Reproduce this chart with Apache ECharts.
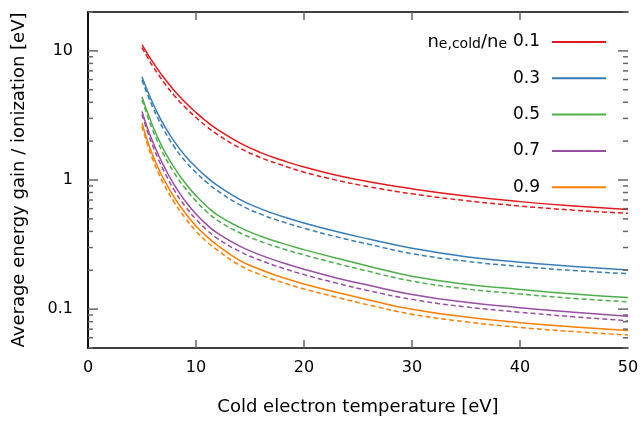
<!DOCTYPE html>
<html>
<head>
<meta charset="utf-8">
<script src="https://cdn.jsdelivr.net/npm/echarts@6/dist/echarts.min.js"></script>
<style>html,body{margin:0;padding:0;background:#fff}#c{width:643px;height:421px}</style>
</head>
<body>
<div id="c"></div>
<script>
// Cold electron temperature samples [eV]
const temps = [5, 5.5, 6, 6.5, 7, 8, 9, 10, 11, 12, 14, 16, 18, 20, 23, 26, 30, 35, 40, 45, 50];
const ratioLabels = ['0.1', '0.3', '0.5', '0.7', '0.9'];
const colors = ['#e41a1c', '#377eb8', '#4daf4a', '#984ea3', '#ff7f00'];

// solid curves
const solid01 = [11.2, 9.52, 8.18, 7.11, 6.24, 4.92, 4.0, 3.33, 2.83, 2.46, 1.95, 1.63, 1.42, 1.26, 1.09, 0.97, 0.855, 0.752, 0.68, 0.628, 0.59];
const solid03 = [6.3, 4.91, 3.93, 3.22, 2.69, 1.98, 1.54, 1.256, 1.053, 0.904, 0.712, 0.598, 0.522, 0.465, 0.399, 0.349, 0.296, 0.255, 0.231, 0.214, 0.201];
const solid05 = [4.42, 3.35, 2.61, 2.10, 1.72, 1.242, 0.947, 0.755, 0.624, 0.535, 0.431, 0.367, 0.323, 0.289, 0.248, 0.215, 0.18, 0.156, 0.142, 0.131, 0.123];
const solid07 = [3.40, 2.53, 1.975, 1.578, 1.292, 0.913, 0.688, 0.545, 0.451, 0.387, 0.309, 0.262, 0.229, 0.2035, 0.1745, 0.153, 0.130, 0.113, 0.1026, 0.0945, 0.0882];
const solid09 = [2.76, 2.015, 1.552, 1.24, 1.019, 0.730, 0.556, 0.441, 0.365, 0.312, 0.240, 0.2016, 0.176, 0.1567, 0.1353, 0.1176, 0.0997, 0.0868, 0.0785, 0.0727, 0.0683];

// dashed curves
const dashed01 = [10.6, 8.95, 7.6, 6.58, 5.74, 4.5, 3.66, 3.05, 2.59, 2.25, 1.78, 1.49, 1.30, 1.15, 0.998, 0.888, 0.782, 0.692, 0.629, 0.584, 0.552];
const dashed03 = [5.95, 4.62, 3.65, 2.98, 2.47, 1.80, 1.40, 1.143, 0.958, 0.823, 0.648, 0.544, 0.475, 0.423, 0.363, 0.318, 0.269, 0.235, 0.214, 0.199, 0.188];
const dashed05 = [4.18, 3.15, 2.43, 1.94, 1.58, 1.13, 0.862, 0.687, 0.568, 0.487, 0.392, 0.334, 0.294, 0.263, 0.226, 0.196, 0.165, 0.1435, 0.131, 0.121, 0.114];
const dashed07 = [3.21, 2.38, 1.837, 1.46, 1.189, 0.831, 0.626, 0.496, 0.41, 0.352, 0.281, 0.238, 0.208, 0.185, 0.159, 0.139, 0.119, 0.104, 0.0947, 0.0872, 0.0813];
const dashed09 = [2.61, 1.89, 1.443, 1.147, 0.938, 0.668, 0.508, 0.402, 0.333, 0.285, 0.220, 0.1845, 0.161, 0.1434, 0.1238, 0.1076, 0.0914, 0.0797, 0.0722, 0.067, 0.063];

// ticks
const xTicks = [0, 10, 20, 30, 40, 50];
const yMajorTicks = [0.1, 1, 10];
const yMinorTicks = [0.05, 0.06, 0.07, 0.08, 0.09, 0.2, 0.3, 0.4, 0.5, 0.6, 0.7, 0.8, 0.9, 2, 3, 4, 5, 6, 7, 8, 9, 20];
const X_MIN = 0, X_MAX = 50, Y_MIN = 0.05, Y_MAX = 20;

const solids = [solid01, solid03, solid05, solid07, solid09];
const dasheds = [dashed01, dashed03, dashed05, dashed07, dashed09];

const FONT = 'DejaVu Sans';
const pair = arr => temps.map((t, i) => [t, arr[i]]);
const TICK_COLOR = '#666';

const series = [];
solids.forEach((s, i) => {
  series.push({
    name: ratioLabels[i], type: 'line', data: pair(s), showSymbol: false, symbol: 'none',
    smooth: 0.5,
    lineStyle: { color: colors[i], width: 1.5 }, itemStyle: { color: colors[i] }, z: 3
  });
  series.push({
    name: ratioLabels[i] + ' dashed', type: 'line', data: pair(dasheds[i]), showSymbol: false, symbol: 'none',
    smooth: 0.5,
    lineStyle: { color: colors[i], width: 1.5, type: [5, 3] }, itemStyle: { color: colors[i] }, z: 3
  });
});

// inward mirrored tick marks drawn through the axes' scales
function yTickSeries(values, len) {
  return {
    type: 'custom', silent: true, z: 5, clip: false,
    data: values.map(v => [X_MIN, v]),
    renderItem: (params, api) => {
      const a = api.coord([X_MIN, api.value(1)]);
      const b = api.coord([X_MAX, api.value(1)]);
      const st = { stroke: TICK_COLOR, lineWidth: 1.5 };
      return { type: 'group', children: [
        { type: 'line', shape: { x1: a[0], y1: a[1], x2: a[0] + len, y2: a[1] }, style: st },
        { type: 'line', shape: { x1: b[0] - len, y1: b[1], x2: b[0], y2: b[1] }, style: st }
      ] };
    }
  };
}
function xTickSeries(values, len) {
  return {
    type: 'custom', silent: true, z: 5, clip: false,
    data: values.map(v => [v, Y_MIN]),
    renderItem: (params, api) => {
      const a = api.coord([api.value(0), Y_MIN]);
      const b = api.coord([api.value(0), Y_MAX]);
      const st = { stroke: TICK_COLOR, lineWidth: 1.5 };
      return { type: 'group', children: [
        { type: 'line', shape: { x1: a[0], y1: a[1], x2: a[0], y2: a[1] - len }, style: st },
        { type: 'line', shape: { x1: b[0], y1: b[1], x2: b[0], y2: b[1] + len }, style: st }
      ] };
    }
  };
}
series.push(yTickSeries(yMajorTicks, 10));
series.push(yTickSeries(yMinorTicks, 5));
series.push(xTickSeries(xTicks.filter(v => v > X_MIN && v < X_MAX), 8));

const frameLine = { show: true, lineStyle: { color: '#000', width: 1.5 } };

const chart = echarts.init(document.getElementById('c'));
chart.setOption({
  animation: false,
  backgroundColor: '#fff',
  grid: { left: 88, right: 15, top: 12, bottom: 72, containLabel: false },
  xAxis: [
    {
      type: 'value', min: X_MIN, max: X_MAX, interval: 10, position: 'bottom',
      name: 'Cold electron temperature [eV]', nameLocation: 'middle', nameGap: 50,
      nameTextStyle: { fontFamily: FONT, fontSize: 18, color: '#000' },
      axisLine: frameLine, axisTick: { show: false }, splitLine: { show: false },
      axisLabel: { fontFamily: FONT, fontSize: 16, color: '#000', margin: 12 }
    },
    {
      type: 'value', min: X_MIN, max: X_MAX, interval: 10, position: 'top',
      axisLine: frameLine, axisTick: { show: false }, axisLabel: { show: false }, splitLine: { show: false }
    }
  ],
  yAxis: [
    {
      type: 'log', logBase: 10, min: Y_MIN, max: Y_MAX, position: 'left',
      name: 'Average energy gain / ionization [eV]', nameLocation: 'middle', nameGap: 60,
      nameTextStyle: { fontFamily: FONT, fontSize: 18, color: '#000' },
      axisLine: frameLine, axisTick: { show: false }, splitLine: { show: false },
      axisLabel: { fontFamily: FONT, fontSize: 16, color: '#000', margin: 15, customValues: yMajorTicks,
        formatter: v => String(+v.toPrecision(3)) }
    },
    {
      type: 'log', logBase: 10, min: Y_MIN, max: Y_MAX, position: 'right',
      axisLine: frameLine, axisTick: { show: false }, axisLabel: { show: false }, splitLine: { show: false }
    }
  ],
  legend: {
    orient: 'vertical', right: 37, top: 33.5, align: 'right',
    icon: 'rect', itemWidth: 54, itemHeight: 2, itemGap: 19.3, padding: 0,
    selectedMode: false,
    textStyle: { fontFamily: FONT, fontSize: 17, color: '#000', padding: [0, 7, 0, 0] },
    data: ratioLabels
  },
  graphic: [{
    type: 'text', z: 10,
    style: {
      x: 507, y: 33.5, align: 'right', verticalAlign: 'top',
      text: '{n|n}{s|e,cold}{n|/n}{s|e}',
      fill: '#000',
      rich: {
        n: { fontFamily: FONT, fontSize: 18, lineHeight: 18, verticalAlign: 'top', fill: '#000' },
        s: { fontFamily: FONT, fontSize: 14, lineHeight: 14, padding: [6, 0, 0, 0], verticalAlign: 'bottom', fill: '#000' }
      }
    }
  }],
  series: series
});
</script>
</body>
</html>
